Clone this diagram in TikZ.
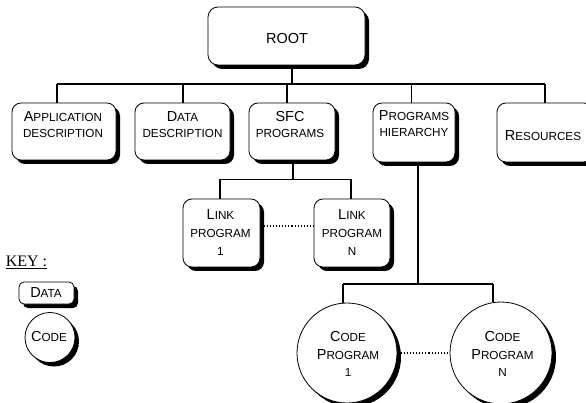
\documentclass[tikz,border=0pt]{standalone}
\usepackage{fontspec}
\setmainfont{Liberation Sans}
\newfontfamily\keyfont{Liberation Serif}
\usetikzlibrary{shadows}
% large initial capital inside small-caps labels
\newcommand{\Cap}[1]{{\fontsize{14.5}{16}\selectfont #1}}
\begin{document}
\begin{tikzpicture}[x=1pt,y=-1pt,
  wire/.style={line width=1.6pt},
  link/.style={dotted, line width=1.1pt},
  shade/.style={drop shadow={shadow xshift=4pt, shadow yshift=-4pt, fill=black, opacity=1}},
  databox/.style={draw, line width=0.8pt, rounded corners=9pt, fill=white, shade, inner sep=0pt},
  codebox/.style={draw, circle, line width=0.8pt, fill=white, shade, inner sep=0pt},
  lbl/.style={inner sep=0pt, align=center, font=\fontsize{11.7}{16}\selectfont},
  lbltall/.style={lbl, font=\fontsize{11.7}{18}\selectfont},
]
\clip (0,0) rectangle (586,403);
\fill[white] (0,0) rectangle (586,403);

% junction points of the connector buses
\coordinate (dRoot) at (292,84);
\coordinate (dApp)  at (57,84);
\coordinate (dData) at (183,84);
\coordinate (dSfc)  at (287,84);
\coordinate (dProg) at (411.5,84);
\coordinate (dRes)  at (545,84);
\coordinate (lkS)   at (293,179.5);
\coordinate (lk1)   at (220,179.5);
\coordinate (lkN)   at (351,179.5);
\coordinate (cbS)   at (418,284);
\coordinate (cb1)   at (343,284);
\coordinate (cbN)   at (493,284);

% data blocks
\node[databox, minimum width=157pt, minimum height=58pt, rounded corners=10pt] (root) at (286.5,36) {};
\node[databox, minimum width=104pt, minimum height=57pt] (app)  at (64,131.5) {};
\node[databox, minimum width=95pt,  minimum height=57pt] (data) at (182.5,131.5) {};
\node[databox, minimum width=86pt,  minimum height=57pt] (sfc)  at (292,131.5) {};
\node[databox, minimum width=82pt,  minimum height=59pt] (prog) at (414,132.5) {};
\node[databox, minimum width=96pt,  minimum height=59pt] (res)  at (545,132.5) {};
\node[databox, minimum width=77pt,  minimum height=68pt] (link1) at (221.5,233) {};
\node[databox, minimum width=76pt,  minimum height=68pt] (linkN) at (352,233) {};

% code blocks
\node[codebox, minimum size=100pt] (code1) at (347,353) {};
\node[codebox, minimum size=102pt] (codeN) at (501,353) {};

% tree connectors
\draw[wire] (dRoot |- root.south) -- (dRoot);
\draw[wire] (dApp) -- (dRes);
\foreach \j/\b in {dApp/app, dData/data, dSfc/sfc, dProg/prog, dRes/res}
  \draw[wire] (\j) -- (\j |- \b.north);
\draw[wire] (lkS |- sfc.south) -- (lkS);
\draw[wire] (lk1) -- (lkN);
\draw[wire] (lk1) -- (lk1 |- link1.north);
\draw[wire] (lkN) -- (lkN |- linkN.north);
\draw[wire] (cbS |- prog.south) -- (cbS);
\draw[wire] (cb1) -- (cbN);
\draw[wire] (cb1) -- (cb1 |- code1.north);
\draw[wire] (cbN) -- (cbN |- codeN.north);

% sibling ranges
\draw[link] ([yshift=7pt]link1.east) -- ([yshift=7pt]linkN.west);
\draw[link] (code1.east) -- (codeN.west);

% labels
\node[lbl] (rootT) at (287,38.3) {\Cap{ROOT}};
\node[lbl] (appT)  at (63,124.5) {\Cap{A}PPLICATION\\DESCRIPTION};
\node[lbl] (dataT) at (182.5,124.5) {\Cap{D}ATA\\DESCRIPTION};
\node[lbl] (sfcT)  at (290,124.5) {\Cap{SFC}\\PROGRAMS};
\node[lbl] (progT) at (414,123.7) {\Cap{P}ROGRAMS\\HIERARCHY};
\node[lbl] (resT)  at (543,135.3) {\Cap{R}ESOURCES};
\node[lbltall] (link1T) at (220.5,232.7) {\Cap{L}INK\\PROGRAM\\1};
\node[lbltall] (linkNT) at (352,232.7) {\Cap{L}INK\\PROGRAM\\N};
\node[lbl, font=\fontsize{11.7}{17.5}\selectfont] (code1T) at (348,354) {\Cap{C}ODE\\\Cap{P}ROGRAM\\1};
\node[lbl, font=\fontsize{11.7}{17.5}\selectfont] (codeNT) at (502.5,354) {\Cap{C}ODE\\\Cap{P}ROGRAM\\N};

% key
\node[inner sep=0pt, font=\keyfont\fontsize{16}{18}\selectfont] (key) at (26.5,262) {\underline{KEY :}};
\node[databox, rounded corners=5pt, minimum width=55pt, minimum height=22pt] (keyData) at (46.5,293) {};
\node[lbl] (keyDataT) at (46,293) {\Cap{D}ATA};
\node[codebox, minimum size=50pt] (keyCode) at (50,337.5) {};
\node[lbl] (keyCodeT) at (49,337) {\Cap{C}ODE};
\end{tikzpicture}
\end{document}
